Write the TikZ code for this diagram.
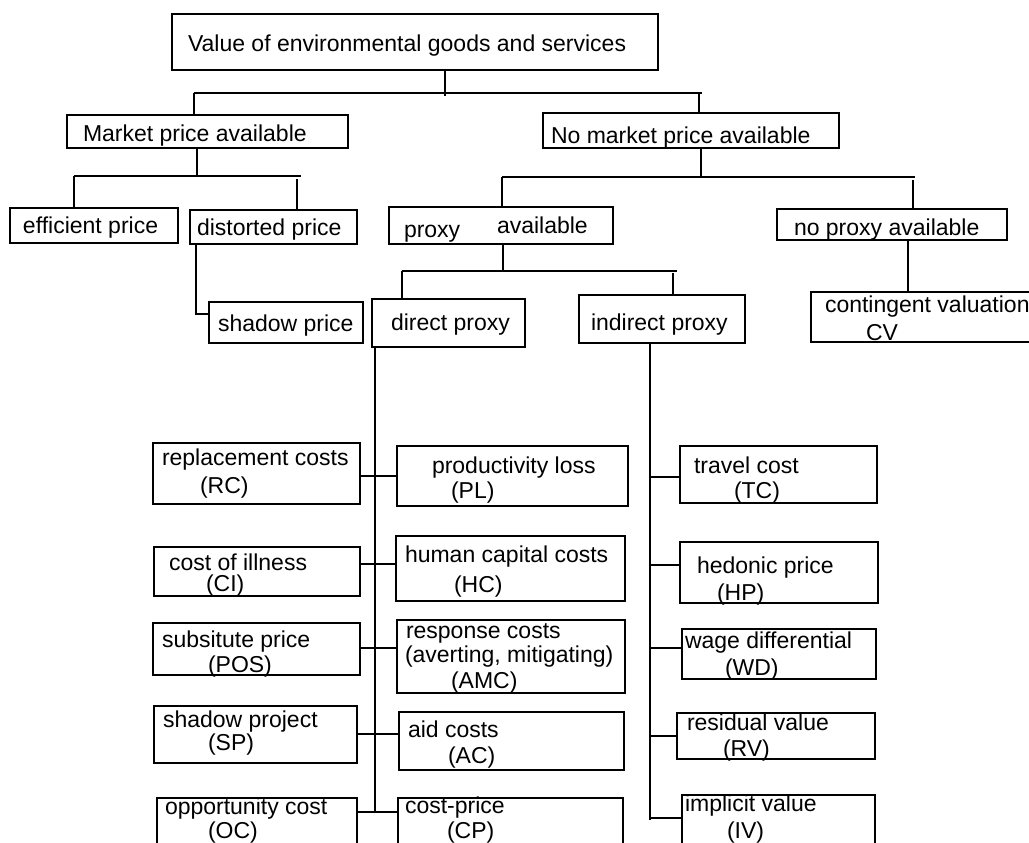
\documentclass[tikz,border=0pt]{standalone}
\usepackage{fontspec}
\setmainfont{Liberation Sans}
\newcommand\fsz{\fontsize{23}{25}\selectfont}
\tikzset{
  box/.style={draw, line width=1.3pt, rectangle, inner sep=0pt, outer sep=0pt, anchor=north west},
  txt/.style={anchor=base west, inner sep=0pt, outer sep=0pt, font=\fsz},
  conn/.style={line width=1.3pt}
}
\newcommand\mybox[6]{\node[box, minimum width=#4pt-#2pt, minimum height=#5pt-#3pt] (#1) at (#2,#3) {#6};}
\begin{document}
\begin{tikzpicture}[x=1pt,y=-1pt]
\fill[white] (0,0) rectangle (1029,843);
\useasboundingbox (0,0) rectangle (1029,843);
\clip (0,0) rectangle (1029,843);
% boxes
\mybox{top}{172}{14}{658}{70}{}
\mybox{market}{67}{115}{348}{148}{}
\mybox{nomarket}{543}{113}{839}{148}{}
\mybox{eff}{10}{208}{178}{243}{}
\mybox{dist}{190}{210}{357}{244}{}
\mybox{proxy}{389}{207}{613}{244}{}
\mybox{noproxy}{777}{209}{1007}{240}{}
\mybox{shadow}{209}{302}{363}{343}{}
\mybox{direct}{372}{299}{525}{347}{}
\mybox{indirect}{579}{295}{745}{343}{}
\mybox{cv}{811}{292}{1045}{342}{}
\mybox{rc}{153}{443}{360}{504}{}
\mybox{pl}{397}{446}{628}{506}{}
\mybox{ci}{154}{547}{360}{596}{}
\mybox{hc}{396}{536}{625}{601}{}
\mybox{pos}{153}{623}{360}{675}{}
\mybox{amc}{397}{620}{625}{693}{}
\mybox{sp}{154}{706}{357}{763}{}
\mybox{ac}{399}{712}{624}{770}{}
\mybox{oc}{157}{798}{357}{875}{}
\mybox{cp}{398}{798}{623}{875}{}
\mybox{tc}{680}{446}{877}{503}{}
\mybox{hp}{680}{542}{878}{603}{}
\mybox{wd}{682}{629}{876}{679}{}
\mybox{rv}{677}{713}{875}{759}{}
\mybox{iv}{682}{795}{875}{875}{}
% texts
\node[txt] (t1) at (188,52) {Value of environmental goods and services};
\node[txt] (t2) at (83,142) {Market price available};
\node[txt] (t3) at (551,143) {No market price available};
\node[txt] (t4) at (23,233) {efficient price};
\node[txt] (t5) at (197,235) {distorted price};
\node[txt] (t6) at (404,237) {proxy};
\node[txt] (t7) at (497,233) {available};
\node[txt] (t8) at (794,235) {no proxy available};
\node[txt] (t9) at (218,331) {shadow price};
\node[txt] (t10) at (391,330) {direct proxy};
\node[txt] (t11) at (591,330) {indirect proxy};
\node[txt] (t12) at (825,312) {contingent valuation};
\node[txt] (t13) at (866,340) {CV};
\node[txt] (t14) at (162,465) {replacement costs};
\node[txt] (t15) at (200,493) {(RC)};
\node[txt] (t16) at (432,473) {productivity loss};
\node[txt] (t17) at (451,498) {(PL)};
\node[txt] (t18) at (169,570) {cost of illness};
\node[txt] (t19) at (206,591) {(CI)};
\node[txt] (t20) at (405,562) {human capital costs};
\node[txt] (t21) at (454,592) {(HC)};
\node[txt] (t22) at (162,647) {subsitute price};
\node[txt] (t23) at (208,672) {(POS)};
\node[txt] (t24) at (406,638) {response costs};
\node[txt] (t25) at (405,662) {(averting, mitigating)};
\node[txt] (t26) at (451,688) {(AMC)};
\node[txt] (t27) at (163,727) {shadow project};
\node[txt] (t28) at (208,750) {(SP)};
\node[txt] (t29) at (408,737) {aid costs};
\node[txt] (t30) at (448,763) {(AC)};
\node[txt] (t31) at (165,814) {opportunity cost};
\node[txt] (t32) at (208,838) {(OC)};
\node[txt] (t33) at (405,813) {cost-price};
\node[txt] (t34) at (447,838) {(CP)};
\node[txt] (t35) at (694,473) {travel cost};
\node[txt] (t36) at (734,498) {(TC)};
\node[txt] (t37) at (697,573) {hedonic price};
\node[txt] (t38) at (717,600) {(HP)};
\node[txt] (t39) at (685,648) {wage differential};
\node[txt] (t40) at (725,675) {(WD)};
\node[txt] (t41) at (687,730) {residual value};
\node[txt] (t42) at (723,756) {(RV)};
\node[txt] (t43) at (685,811) {implicit value};
\node[txt] (t44) at (727,838) {(IV)};
% junction coordinates
\coordinate (j1) at (445,96);
\coordinate (b1l) at (194,93);
\coordinate (b1r) at (702,93);
\coordinate (d1a) at (194,93);
\coordinate (d1b) at (699,93);
\coordinate (j2) at (197,176);
\coordinate (b2l) at (74,176);
\coordinate (b2r) at (301,176);
\coordinate (d2b) at (297,179);
\coordinate (k1) at (196,314);
\coordinate (j3) at (701,177);
\coordinate (b3l) at (502,177);
\coordinate (b3r) at (915,177);
\coordinate (d3b) at (913,180);
\coordinate (j4) at (503,271);
\coordinate (b4l) at (402,271);
\coordinate (b4r) at (677,271);
\coordinate (d4b) at (673,273);
\coordinate (s1) at (375,813);
\coordinate (s2) at (650,820);
% connectors
\draw[conn] (top.south -| j1) -- (j1);
\draw[conn] (b1l) -- (b1r);
\draw[conn] (d1a) -- (market.north -| d1a);
\draw[conn] (d1b) -- (nomarket.north -| d1b);
\draw[conn] (market.south -| j2) -- (j2);
\draw[conn] (b2l) -- (b2r);
\draw[conn] (b2l) -- (eff.north -| b2l);
\draw[conn] (d2b) -- (dist.north -| d2b);
\draw[conn] (dist.south -| k1) -- (k1) -- (shadow.west |- k1);
\draw[conn] (nomarket.south -| j3) -- (j3);
\draw[conn] (b3l) -- (b3r);
\draw[conn] (b3l) -- (proxy.north -| b3l);
\draw[conn] (d3b) -- (noproxy.north -| d3b);
\draw[conn] (noproxy.south -| 908,0) -- (cv.north -| 908,0);
\draw[conn] (proxy.south -| j4) -- (j4);
\draw[conn] (b4l) -- (b4r);
\draw[conn] (b4l) -- (direct.north -| b4l);
\draw[conn] (d4b) -- (indirect.north -| d4b);
\draw[conn] (direct.south -| s1) -- (s1);
\draw[conn] (indirect.south -| s2) -- (s2);
\draw[conn] (rc.east |- 0,476) -- (pl.west |- 0,476);
\draw[conn] (ci.east |- 0,564) -- (hc.west |- 0,564);
\draw[conn] (pos.east |- 0,648) -- (amc.west |- 0,648);
\draw[conn] (sp.east |- 0,734) -- (ac.west |- 0,734);
\draw[conn] (oc.east |- 0,812) -- (cp.west |- 0,812);
\draw[conn] (s2 |- 0,477) -- (tc.west |- 0,477);
\draw[conn] (s2 |- 0,565) -- (hp.west |- 0,565);
\draw[conn] (s2 |- 0,648) -- (wd.west |- 0,648);
\draw[conn] (s2 |- 0,736) -- (rv.west |- 0,736);
\draw[conn] (s2 |- 0,818) -- (iv.west |- 0,818);
\end{tikzpicture}
\end{document}
